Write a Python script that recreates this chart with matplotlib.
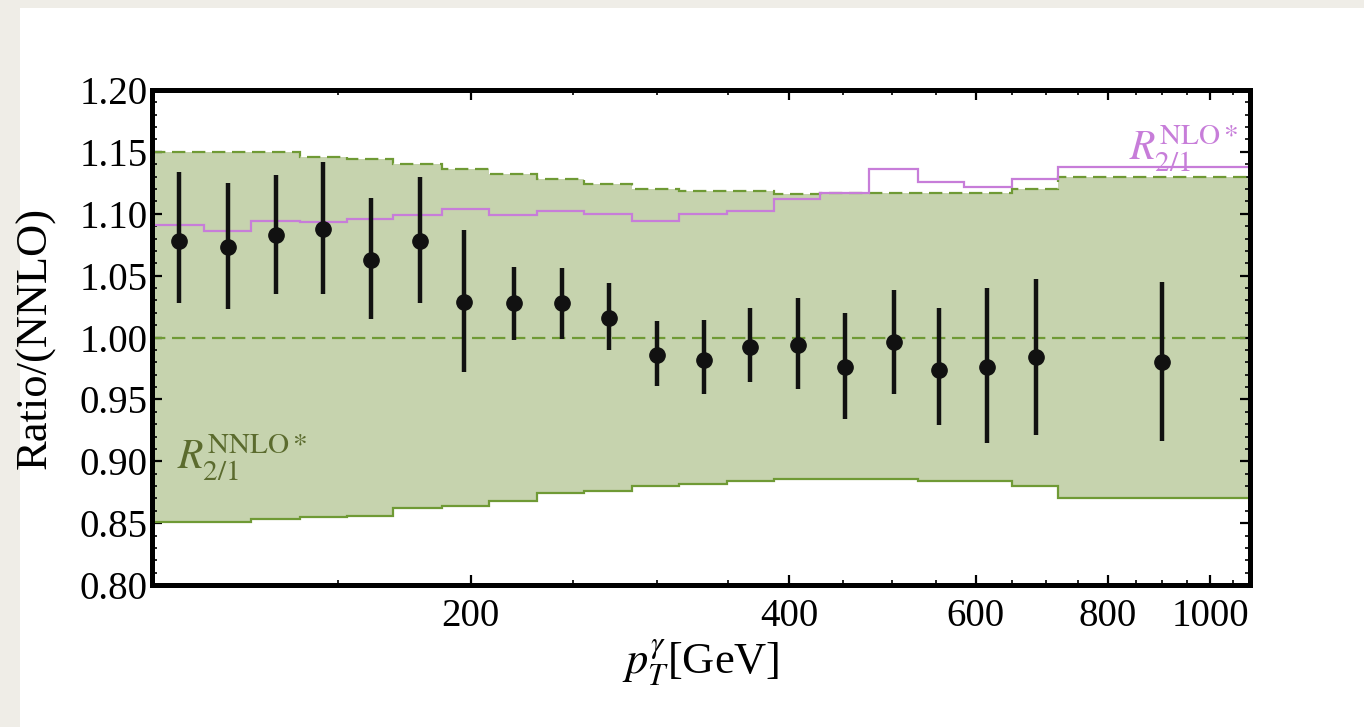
import numpy as np
import matplotlib
matplotlib.use("Agg")
import matplotlib.pyplot as plt
from matplotlib.patches import Rectangle
from matplotlib.ticker import FixedLocator, MultipleLocator, NullFormatter, FormatStrFormatter

plt.rcParams['font.family'] = ['Liberation Serif', 'DejaVu Serif']
plt.rcParams['mathtext.fontset'] = 'stix'

# bin edges (GeV) of the step curves
edges = [100, 112, 124, 138, 153, 169, 188, 208, 231, 256, 284,
         315, 349, 387, 428, 476, 529, 585, 649, 718, 1100]

# NNLO* band (upper / lower)
band_up = [1.150, 1.150, 1.150, 1.146, 1.144, 1.140, 1.136, 1.132, 1.128, 1.124,
           1.120, 1.118, 1.118, 1.116, 1.117, 1.117, 1.117, 1.117, 1.120, 1.130]
band_lo = [0.851, 0.851, 0.853, 0.855, 0.856, 0.862, 0.864, 0.868, 0.874, 0.876,
           0.880, 0.882, 0.884, 0.886, 0.886, 0.886, 0.884, 0.884, 0.880, 0.870]

# NLO* ratio
nlo = [1.091, 1.086, 1.094, 1.093, 1.096, 1.099, 1.104, 1.099, 1.102, 1.100,
       1.094, 1.100, 1.102, 1.112, 1.117, 1.136, 1.126, 1.122, 1.128, 1.138]

# data points
pt = [106, 118, 131, 145, 161, 179, 197, 220, 244, 270,
      300, 332, 367, 408, 452, 502, 554, 615, 684, 901]
ratio = [1.078, 1.073, 1.083, 1.088, 1.063, 1.078, 1.029, 1.028, 1.028, 1.016,
         0.986, 0.982, 0.992, 0.994, 0.976, 0.996, 0.974, 0.976, 0.984, 0.980]
err_hi = [1.134, 1.125, 1.131, 1.142, 1.113, 1.130, 1.087, 1.057, 1.056, 1.044,
          1.013, 1.014, 1.024, 1.032, 1.020, 1.038, 1.024, 1.040, 1.047, 1.045]
err_lo = [1.028, 1.023, 1.035, 1.035, 1.015, 1.028, 0.972, 0.998, 0.999, 0.990,
          0.961, 0.954, 0.964, 0.958, 0.934, 0.954, 0.929, 0.915, 0.921, 0.916]

W, H = 1364, 727
fig = plt.figure(figsize=(W / 100, H / 100), dpi=100)
# grey page behind a white panel
fig.patches.append(Rectangle((0, 0), 1, 1, transform=fig.transFigure,
                             facecolor='#efede7', edgecolor='none', zorder=-10))
fig.patches.append(Rectangle((20 / W, 0), 1, 1 - 8 / H, transform=fig.transFigure,
                             facecolor='white', edgecolor='none', zorder=-9))

ax = fig.add_axes([152 / W, (H - 585) / H, (1250 - 152) / W, (585 - 90) / H])
ax.set_facecolor('white')
ax.set_xscale('log')

green_fill = '#c6d3ae'
green_line = '#6f9a35'
purple = '#c77dd9'

ax.stairs(band_up, edges, baseline=band_lo, fill=True, color=green_fill, zorder=1)
ax.stairs(band_up, edges, baseline=None, color=green_line, lw=1.6,
          linestyle=(0, (6, 3)), zorder=2)
ax.stairs(band_lo, edges, baseline=None, color=green_line, lw=1.6, zorder=2)
ax.axhline(1.0, color=green_line, lw=1.6, linestyle=(0, (6, 3)), zorder=2)
ax.stairs(nlo, edges, baseline=None, color=purple, lw=1.6, zorder=3)

pt = np.array(pt)
ratio = np.array(ratio)
yerr = [ratio - np.array(err_lo), np.array(err_hi) - ratio]
ax.errorbar(pt, ratio, yerr=yerr, fmt='o', color='#111111', ms=11,
            elinewidth=3.2, capsize=0, zorder=4)

ax.text(837, 1.153, r'$R_{2/1}^{\mathrm{NLO}*}$', color=purple, fontsize=30,
        ha='left', va='center', zorder=5)
ax.text(105.6, 0.9035, r'$R_{2/1}^{\mathrm{NNLO}*}$', color='#5b6b2e', fontsize=30,
        ha='left', va='center', zorder=5)

ax.set_xlim(100, 1090)
ax.set_ylim(0.80, 1.20)

ax.xaxis.set_major_locator(FixedLocator([200, 400, 600, 800, 1000]))
ax.xaxis.set_minor_locator(FixedLocator([m for m in range(150, 1100, 50)
                                         if m % 200 != 0]))
ax.xaxis.set_major_formatter(FormatStrFormatter('%d'))
ax.xaxis.set_minor_formatter(NullFormatter())
ax.yaxis.set_major_locator(MultipleLocator(0.05))
ax.yaxis.set_minor_locator(MultipleLocator(0.01))
ax.yaxis.set_major_formatter(FormatStrFormatter('%.2f'))

ax.tick_params(which='both', direction='in', top=True, right=True, colors='black',
               labelsize=28)
ax.tick_params(which='major', length=7, width=1.6)
ax.tick_params(which='minor', length=3.5, width=1.2)
ax.tick_params(axis='x', pad=9)
ax.tick_params(axis='y', pad=3)
for s in ax.spines.values():
    s.set_linewidth(3.6)
    s.set_zorder(6)

ax.set_xlabel(r'$p_T^{\gamma}$[GeV]', fontsize=32)
ax.set_ylabel('Ratio/(NNLO)', fontsize=32)
ax.xaxis.set_label_coords(0.5, -0.105)
ax.yaxis.set_label_coords(-0.088, 0.5)

fig.savefig('out.png', dpi=100)
